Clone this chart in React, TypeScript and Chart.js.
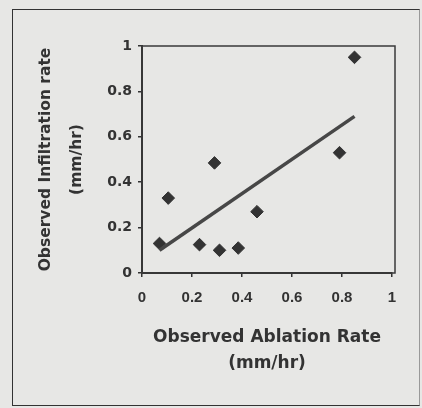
import React, { useEffect, useRef } from "react";
import { Chart, registerables } from "chart.js";

Chart.register(...registerables);

const ablation = [0.07, 0.105, 0.23, 0.29, 0.31, 0.385, 0.46, 0.79, 0.85];
const infiltration = [0.13, 0.33, 0.125, 0.485, 0.1, 0.11, 0.27, 0.53, 0.95];
const trendX = [0.07, 0.85];
const trendY = [0.1, 0.69];
const xTitle = ["Observed Ablation Rate", "(mm/hr)"];
const yTitle = ["Observed Infiltration rate", "(mm/hr)"];

const FONT = "'DejaVu Sans', 'Liberation Sans', Arial, sans-serif";
const FONT2 = "'Liberation Sans', Arial, sans-serif";
const INK = "#333333";

const fmt = (v: any) => String(Number(Number(v).toFixed(1)));

const boxPlugin = {
  id: "plotBox",
  afterDraw(chart: any) {
    const { ctx, chartArea } = chart;
    ctx.save();
    ctx.strokeStyle = "#3a3a3a";
    ctx.lineWidth = 1.5;
    ctx.strokeRect(chartArea.left, chartArea.top, chartArea.right - chartArea.left + 3, chartArea.bottom - chartArea.top);
    ctx.restore();
  },
};

export default function App() {
  const ref = useRef<HTMLCanvasElement | null>(null);
  useEffect(() => {
    if (!ref.current) return;
    const chart = new Chart(ref.current, {
      type: "scatter",
      data: {
        datasets: [
          {
            type: "line",
            data: trendX.map((x, i) => ({ x, y: trendY[i] })),
            borderColor: "#474747",
            borderWidth: 3.5,
            pointRadius: 0,
            fill: false,
          } as any,
          {
            data: ablation.map((x, i) => ({ x, y: infiltration[i] })),
            pointStyle: "rectRot",
            pointRadius: 6.3,
            backgroundColor: "#333333",
            borderColor: "#333333",
            borderWidth: 1,
          },
        ],
      },
      plugins: [boxPlugin],
      options: {
        animation: false,
        responsive: false,
        maintainAspectRatio: false,
        layout: { padding: { top: 46, right: 30, left: 0, bottom: 0 } },
        plugins: { legend: { display: false }, tooltip: { enabled: false } },
        scales: {
          x: {
            type: "linear",
            min: 0,
            max: 1,
            ticks: { stepSize: 0.2, callback: fmt, color: INK, font: { family: FONT2, size: 15, weight: "bold" }, padding: 12, maxRotation: 0 },
            grid: { display: true, drawOnChartArea: false, drawTicks: true, tickLength: 4, color: INK, lineWidth: 1.5 },
            border: { display: true, color: INK, width: 2 },
            title: {
              display: true,
              text: xTitle,
              color: INK,
              font: { family: FONT, size: 17, weight: "bold", lineHeight: "26px" },
              padding: { top: 0, bottom: 31 },
            },
            afterFit: (s: any) => {
              s.height = 135;
            },
          },
          y: {
            type: "linear",
            min: 0,
            max: 1,
            ticks: { stepSize: 0.2, callback: fmt, color: INK, font: { family: FONT, size: 14, weight: "bold" }, padding: 6 },
            grid: { display: true, drawOnChartArea: false, drawTicks: true, tickLength: 4, color: INK, lineWidth: 1.5 },
            border: { display: true, color: INK, width: 2 },
            title: {
              display: true,
              text: yTitle,
              color: INK,
              font: { family: FONT, size: 15.5, weight: "bold", lineHeight: "31px" },
              padding: { top: 30, bottom: 0 },
            },
            afterFit: (s: any) => {
              s.width = 142;
            },
          },
        },
      } as any,
    });
    return () => chart.destroy();
  }, []);
  return (
    <div style={{ position: "fixed", left: 0, top: 0, width: 422, height: 408, background: "#e7e7e5", overflow: "hidden" }}>
      <div
        style={{
          position: "absolute",
          left: 12,
          top: 9,
          width: 406,
          height: 395,
          borderLeft: "1.5px solid #333",
          borderTop: "1.5px solid #333",
          borderBottom: "1.5px solid #333",
          borderRight: "1px solid #999",
        }}
      />
      <canvas ref={ref} width={422} height={408} style={{ position: "absolute", left: 0, top: 0, width: 422, height: 408 }} />
    </div>
  );
}
